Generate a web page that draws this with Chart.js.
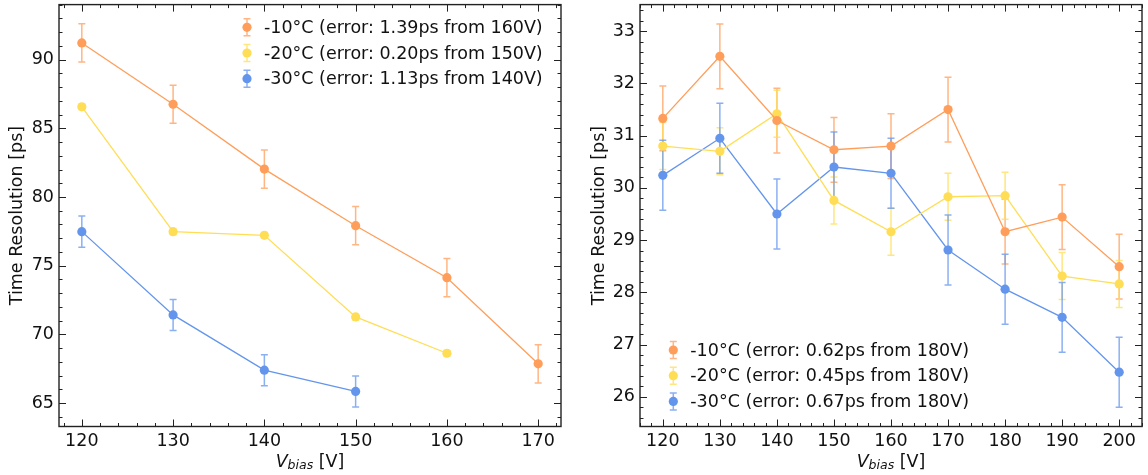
<!DOCTYPE html>
<html>
<head>
<meta charset="utf-8">
<script src="https://cdn.jsdelivr.net/npm/chart.js@4.4.1/dist/chart.umd.min.js"></script>
<style>
  body { margin: 0; background: #fff; }
  #wrap { position: relative; width: 1148px; height: 475px; }
  .pane { position: absolute; top: 0; width: 574px; height: 475px; }
</style>
</head>
<body>
<div id="wrap">
  <div class="pane" style="left:0"><canvas id="izq"></canvas></div>
  <div class="pane" style="left:574px"><canvas id="der"></canvas></div>
</div>
<script>
// ---- datos panel izquierdo ----
const vbiasIzq = [120, 130, 140, 150, 160, 170];
const izq10 = [91.21, 86.75, 82.03, 77.91, 74.13, 67.86];
const izq20 = [86.56, 77.48, 77.21, 71.27, 68.63];
const izq30 = [77.48, 71.42, 67.40, 65.85];
const errIzq = [1.39, 0.20, 1.13];
const etiquetasIzq = [
  '-10°C (error: 1.39ps from 160V)',
  '-20°C (error: 0.20ps from 150V)',
  '-30°C (error: 1.13ps from 140V)'
];
const ticksXIzq = [120, 130, 140, 150, 160, 170];
const ticksYIzq = [65, 70, 75, 80, 85, 90];

// ---- datos panel derecho ----
const vbiasDer = [120, 130, 140, 150, 160, 170, 180, 190, 200];
const der10 = [31.33, 32.52, 31.29, 30.73, 30.80, 31.50, 29.16, 29.44, 28.49];
const der20 = [30.80, 30.70, 31.42, 29.76, 29.16, 29.83, 29.85, 28.31, 28.16];
const der30 = [30.24, 30.95, 29.50, 30.40, 30.28, 28.81, 28.06, 27.52, 26.47];
const errDer = [0.62, 0.45, 0.67];
const etiquetasDer = [
  '-10°C (error: 0.62ps from 180V)',
  '-20°C (error: 0.45ps from 180V)',
  '-30°C (error: 0.67ps from 180V)'
];
const ticksXDer = [120, 130, 140, 150, 160, 170, 180, 190, 200];
const ticksYDer = [26, 27, 28, 29, 30, 31, 32, 33];

const colores = ['255,158,90', '255,222,85', '100,149,237'];
const fuente = 'DejaVu Sans';

function puntos(xs, ys) {
  return ys.map((y, i) => ({ x: xs[i], y: y }));
}

// barras de error (constantes por serie)
const barrasError = {
  id: 'barrasError',
  beforeDatasetsDraw(chart) {
    const ctx = chart.ctx;
    const ys = chart.scales.y;
    chart.data.datasets.forEach((ds, i) => {
      const meta = chart.getDatasetMeta(i);
      ctx.save();
      ctx.strokeStyle = 'rgba(' + ds.rgb + ',0.75)';
      ctx.lineWidth = 1.5;
      meta.data.forEach((el, j) => {
        const v = ds.data[j].y;
        const y1 = ys.getPixelForValue(v + ds.err);
        const y2 = ys.getPixelForValue(v - ds.err);
        ctx.beginPath();
        ctx.moveTo(el.x, y1); ctx.lineTo(el.x, y2);
        ctx.moveTo(el.x - 3.5, y1); ctx.lineTo(el.x + 3.5, y1);
        ctx.moveTo(el.x - 3.5, y2); ctx.lineTo(el.x + 3.5, y2);
        ctx.stroke();
      });
      ctx.restore();
    });
  }
};

// marco y ticks hacia adentro (estilo matplotlib)
const marco = {
  id: 'marco',
  afterDraw(chart, args, opts) {
    const ctx = chart.ctx;
    const a = chart.chartArea;
    const xs = chart.scales.x, ys = chart.scales.y;
    ctx.save();
    ctx.strokeStyle = '#222';
    ctx.lineWidth = 1;
    const marca = (v, escala, largo) => {
      if (escala === xs) {
        const p = Math.round(xs.getPixelForValue(v)) + 0.5;
        ctx.moveTo(p, a.bottom); ctx.lineTo(p, a.bottom - largo);
        ctx.moveTo(p, a.top); ctx.lineTo(p, a.top + largo);
      } else {
        const p = Math.round(ys.getPixelForValue(v)) + 0.5;
        ctx.moveTo(a.left, p); ctx.lineTo(a.left + largo, p);
        ctx.moveTo(a.right, p); ctx.lineTo(a.right - largo, p);
      }
    };
    ctx.beginPath();
    for (let v = Math.ceil(xs.min / opts.xMenor) * opts.xMenor; v <= xs.max; v += opts.xMenor) marca(v, xs, 3.5);
    for (let k = Math.ceil(ys.min / opts.yMenor); k * opts.yMenor <= ys.max; k++) marca(k * opts.yMenor, ys, 3.5);
    ctx.stroke();
    ctx.beginPath();
    xs.ticks.forEach(t => marca(t.value, xs, 7));
    ys.ticks.forEach(t => marca(t.value, ys, 7));
    ctx.stroke();
    ctx.lineWidth = 1.4;
    ctx.strokeRect(a.left, a.top, a.right - a.left, a.bottom - a.top);

    // titulos de ejes
    ctx.fillStyle = '#111';
    ctx.textBaseline = 'middle';
    const cx = (a.left + a.right) / 2;
    const f1 = 'italic 17.5px "' + fuente + '"';
    const f2 = 'italic 12.5px "' + fuente + '"';
    const f3 = '17.5px "' + fuente + '"';
    ctx.font = f1; const w1 = ctx.measureText('V').width;
    ctx.font = f2; const w2 = ctx.measureText('bias').width;
    ctx.font = f3; const w3 = ctx.measureText(' [V]').width;
    let x0 = cx - (w1 + w2 + w3) / 2;
    const yt = 462;
    ctx.textAlign = 'left';
    ctx.font = f1; ctx.fillText('V', x0, yt); x0 += w1;
    ctx.font = f2; ctx.fillText('bias', x0, yt + 4); x0 += w2;
    ctx.font = f3; ctx.fillText(' [V]', x0, yt);

    ctx.translate(opts.yTituloX, (a.top + a.bottom) / 2);
    ctx.rotate(-Math.PI / 2);
    ctx.textAlign = 'center';
    ctx.font = f3;
    ctx.fillText('Time Resolution [ps]', 0, 0);
    ctx.restore();
  }
};

// leyenda con barra de error
const leyenda = {
  id: 'leyenda',
  afterDraw(chart, args, opts) {
    const ctx = chart.ctx;
    ctx.save();
    chart.data.datasets.forEach((ds, i) => {
      const y = opts.y + i * 25.7;
      const x = opts.x;
      ctx.strokeStyle = 'rgba(' + ds.rgb + ',0.75)';
      ctx.lineWidth = 1.5;
      ctx.beginPath();
      ctx.moveTo(x, y - 8.5); ctx.lineTo(x, y + 8.5);
      ctx.moveTo(x - 3.5, y - 8.5); ctx.lineTo(x + 3.5, y - 8.5);
      ctx.moveTo(x - 3.5, y + 8.5); ctx.lineTo(x + 3.5, y + 8.5);
      ctx.stroke();
      ctx.fillStyle = 'rgb(' + ds.rgb + ')';
      ctx.beginPath();
      ctx.arc(x, y, 4.6, 0, Math.PI * 2);
      ctx.fill();
      ctx.fillStyle = '#111';
      ctx.font = '17.5px "' + fuente + '"';
      ctx.textAlign = 'left';
      ctx.textBaseline = 'middle';
      ctx.fillText(ds.label, x + 17, y + 1);
    });
    ctx.restore();
  }
};

function crearGrafica(id, xs, series, errores, etiquetas, ticksX, ticksY, lim, cfg) {
  const datasets = series.map((ys, i) => ({
    label: etiquetas[i],
    data: puntos(xs, ys),
    err: errores[i],
    rgb: colores[i],
    borderColor: 'rgb(' + colores[i] + ')',
    backgroundColor: 'rgb(' + colores[i] + ')',
    borderWidth: 1.3,
    pointRadius: 4.6,
    pointBorderWidth: 0,
    pointHoverRadius: 4.6,
    tension: 0
  }));
  return new Chart(document.getElementById(id), {
    type: 'line',
    data: { datasets: datasets },
    options: {
      responsive: true,
      maintainAspectRatio: false,
      animation: false,
      events: [],
      layout: { padding: { top: 4, right: cfg.derecha, left: 0, bottom: 0 } },
      plugins: {
        legend: { display: false },
        tooltip: { enabled: false },
        marco: { xMenor: 2, yMenor: lim.yMenor, yTituloX: cfg.yTituloX },
        leyenda: { x: cfg.leyX, y: cfg.leyY }
      },
      scales: {
        x: {
          type: 'linear',
          min: lim.xMin, max: lim.xMax,
          afterBuildTicks: s => { s.ticks = ticksX.map(v => ({ value: v })); },
          afterFit: s => { s.height = 48.5; s.paddingLeft = 0; s.paddingRight = 0; },
          grid: { display: false, drawTicks: false },
          border: { display: false },
          ticks: { color: '#111', padding: 4, maxRotation: 0, font: { family: fuente, size: 17.5 } }
        },
        y: {
          min: lim.yMin, max: lim.yMax,
          afterBuildTicks: s => { s.ticks = ticksY.map(v => ({ value: v })); },
          afterFit: s => { s.width = cfg.anchoY; s.paddingTop = 0; s.paddingBottom = 0; },
          grid: { display: false, drawTicks: false },
          border: { display: false },
          ticks: { color: '#111', padding: 5, font: { family: fuente, size: 17.5 } }
        }
      }
    },
    plugins: [barrasError, marco, leyenda]
  });
}

crearGrafica('izq', vbiasIzq, [izq10, izq20, izq30], errIzq, etiquetasIzq, ticksXIzq, ticksYIzq,
  { xMin: 117.5, xMax: 172.5, yMin: 63.3, yMax: 94.0, yMenor: 1 },
  { anchoY: 59, derecha: 13, yTituloX: 17, leyX: 247, leyY: 27.3 });

crearGrafica('der', vbiasDer, [der10, der20, der30], errDer, etiquetasDer, ticksXDer, ticksYDer,
  { xMin: 116, xMax: 204, yMin: 25.43, yMax: 33.51, yMenor: 0.2 },
  { anchoY: 66, derecha: 6, yTituloX: 25.5, leyX: 99.3, leyY: 350 });
</script>
</body>
</html>
